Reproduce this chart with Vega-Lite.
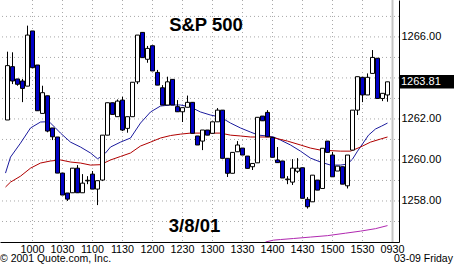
{
  "$schema": "https://vega.github.io/schema/vega-lite/v6.json",
  "width": 399,
  "height": 242,
  "autosize": {"type": "none"},
  "padding": {"left": 0, "top": 0, "right": 55, "bottom": 22},
  "background": "white",
  "config": {
    "view": {"stroke": null},
    "font": "Liberation Sans",
    "axis": {
      "grid": false,
      "domainColor": "black",
      "domainWidth": 1,
      "tickSize": 0,
      "ticks": false,
      "labelFont": "Liberation Sans",
      "labelFontSize": 11,
      "labelColor": "black",
      "labelOverlap": false,
      "labelFlush": false
    }
  },
  "datasets": {
    "candles": [
      {"t": 575, "o": 1261.95, "h": 1265.28, "l": 1261.95, "c": 1264.60},
      {"t": 580, "o": 1264.55, "h": 1265.25, "l": 1263.70, "c": 1263.85},
      {"t": 585, "o": 1263.95, "h": 1263.95, "l": 1263.62, "c": 1263.69},
      {"t": 590, "o": 1263.85, "h": 1263.95, "l": 1262.82, "c": 1263.49},
      {"t": 595, "o": 1263.60, "h": 1266.55, "l": 1263.60, "c": 1266.09},
      {"t": 600, "o": 1266.29, "h": 1266.29, "l": 1264.50, "c": 1264.50},
      {"t": 605, "o": 1264.63, "h": 1264.63, "l": 1262.40, "c": 1262.40},
      {"t": 610, "o": 1262.27, "h": 1263.62, "l": 1262.27, "c": 1263.28},
      {"t": 615, "o": 1263.13, "h": 1263.13, "l": 1261.35, "c": 1261.41},
      {"t": 620, "o": 1261.56, "h": 1261.56, "l": 1260.97, "c": 1261.13},
      {"t": 625, "o": 1261.12, "h": 1261.12, "l": 1259.36, "c": 1259.36},
      {"t": 630, "o": 1259.36, "h": 1259.36, "l": 1258.29, "c": 1258.29},
      {"t": 635, "o": 1258.39, "h": 1258.39, "l": 1258.00, "c": 1258.09},
      {"t": 640, "o": 1258.40, "h": 1259.60, "l": 1258.40, "c": 1259.60},
      {"t": 645, "o": 1259.60, "h": 1259.75, "l": 1258.40, "c": 1258.40},
      {"t": 650, "o": 1258.40, "h": 1259.31, "l": 1258.40, "c": 1258.87},
      {"t": 655, "o": 1258.98, "h": 1259.21, "l": 1258.82, "c": 1259.01},
      {"t": 660, "o": 1259.31, "h": 1259.46, "l": 1258.58, "c": 1258.58},
      {"t": 665, "o": 1258.58, "h": 1258.99, "l": 1257.80, "c": 1258.99},
      {"t": 670, "o": 1259.02, "h": 1261.21, "l": 1258.97, "c": 1261.21},
      {"t": 675, "o": 1261.21, "h": 1262.79, "l": 1261.21, "c": 1262.79},
      {"t": 680, "o": 1262.79, "h": 1262.79, "l": 1262.22, "c": 1262.22},
      {"t": 685, "o": 1262.11, "h": 1262.95, "l": 1262.11, "c": 1262.87},
      {"t": 690, "o": 1262.92, "h": 1263.08, "l": 1261.41, "c": 1261.46},
      {"t": 695, "o": 1261.54, "h": 1262.11, "l": 1261.33, "c": 1262.11},
      {"t": 700, "o": 1262.11, "h": 1263.79, "l": 1262.11, "c": 1263.79},
      {"t": 705, "o": 1263.81, "h": 1266.09, "l": 1263.70, "c": 1266.09},
      {"t": 710, "o": 1266.22, "h": 1266.22, "l": 1264.99, "c": 1264.99},
      {"t": 715, "o": 1264.91, "h": 1265.56, "l": 1264.74, "c": 1265.44},
      {"t": 720, "o": 1265.57, "h": 1265.57, "l": 1264.34, "c": 1264.34},
      {"t": 725, "o": 1264.27, "h": 1264.39, "l": 1263.65, "c": 1263.65},
      {"t": 730, "o": 1263.52, "h": 1263.65, "l": 1262.68, "c": 1262.68},
      {"t": 735, "o": 1262.68, "h": 1264.06, "l": 1262.68, "c": 1263.81},
      {"t": 740, "o": 1263.93, "h": 1263.93, "l": 1262.68, "c": 1262.68},
      {"t": 745, "o": 1262.60, "h": 1262.92, "l": 1262.35, "c": 1262.35},
      {"t": 750, "o": 1262.35, "h": 1262.55, "l": 1261.85, "c": 1262.55},
      {"t": 755, "o": 1262.57, "h": 1263.14, "l": 1262.57, "c": 1262.81},
      {"t": 760, "o": 1262.81, "h": 1262.81, "l": 1261.30, "c": 1261.30},
      {"t": 765, "o": 1261.17, "h": 1261.17, "l": 1260.73, "c": 1260.73},
      {"t": 770, "o": 1260.92, "h": 1261.46, "l": 1260.48, "c": 1261.46},
      {"t": 775, "o": 1261.46, "h": 1261.46, "l": 1261.21, "c": 1261.21},
      {"t": 780, "o": 1261.30, "h": 1261.86, "l": 1261.30, "c": 1261.86},
      {"t": 785, "o": 1261.86, "h": 1262.53, "l": 1261.86, "c": 1262.43},
      {"t": 790, "o": 1262.43, "h": 1262.43, "l": 1260.08, "c": 1260.08},
      {"t": 795, "o": 1260.08, "h": 1260.08, "l": 1259.17, "c": 1259.35},
      {"t": 800, "o": 1259.35, "h": 1260.37, "l": 1259.35, "c": 1260.37},
      {"t": 805, "o": 1260.40, "h": 1260.92, "l": 1260.40, "c": 1260.73},
      {"t": 810, "o": 1260.58, "h": 1260.58, "l": 1260.24, "c": 1260.24},
      {"t": 815, "o": 1260.19, "h": 1260.19, "l": 1259.59, "c": 1259.59},
      {"t": 820, "o": 1259.67, "h": 1259.83, "l": 1259.51, "c": 1259.83},
      {"t": 825, "o": 1259.86, "h": 1262.08, "l": 1259.86, "c": 1262.08},
      {"t": 830, "o": 1262.14, "h": 1262.14, "l": 1261.91, "c": 1261.91},
      {"t": 835, "o": 1262.32, "h": 1262.43, "l": 1261.13, "c": 1261.13},
      {"t": 840, "o": 1261.10, "h": 1261.10, "l": 1260.13, "c": 1260.13},
      {"t": 845, "o": 1260.00, "h": 1260.63, "l": 1259.87, "c": 1259.87},
      {"t": 850, "o": 1259.95, "h": 1259.95, "l": 1259.12, "c": 1259.12},
      {"t": 855, "o": 1259.04, "h": 1259.21, "l": 1258.82, "c": 1259.07},
      {"t": 860, "o": 1258.92, "h": 1260.04, "l": 1258.78, "c": 1259.60},
      {"t": 865, "o": 1259.45, "h": 1260.09, "l": 1259.36, "c": 1259.60},
      {"t": 870, "o": 1259.62, "h": 1259.62, "l": 1258.13, "c": 1258.13},
      {"t": 875, "o": 1258.08, "h": 1258.19, "l": 1257.63, "c": 1257.72},
      {"t": 880, "o": 1257.96, "h": 1259.26, "l": 1257.96, "c": 1259.26},
      {"t": 885, "o": 1259.02, "h": 1259.02, "l": 1258.53, "c": 1258.53},
      {"t": 890, "o": 1258.61, "h": 1260.57, "l": 1258.61, "c": 1260.57},
      {"t": 895, "o": 1260.92, "h": 1260.92, "l": 1260.37, "c": 1260.37},
      {"t": 900, "o": 1260.24, "h": 1260.39, "l": 1259.18, "c": 1259.18},
      {"t": 905, "o": 1259.46, "h": 1259.70, "l": 1259.46, "c": 1259.70},
      {"t": 910, "o": 1259.67, "h": 1259.67, "l": 1258.82, "c": 1258.82},
      {"t": 915, "o": 1258.74, "h": 1260.24, "l": 1258.61, "c": 1260.24},
      {"t": 920, "o": 1260.48, "h": 1262.43, "l": 1260.48, "c": 1262.43},
      {"t": 925, "o": 1262.43, "h": 1264.06, "l": 1262.19, "c": 1264.06},
      {"t": 930, "o": 1264.03, "h": 1264.03, "l": 1262.82, "c": 1263.17},
      {"t": 935, "o": 1263.17, "h": 1264.22, "l": 1263.17, "c": 1264.03},
      {"t": 940, "o": 1264.22, "h": 1265.36, "l": 1264.22, "c": 1265.00},
      {"t": 945, "o": 1264.96, "h": 1264.96, "l": 1263.00, "c": 1263.00},
      {"t": 950, "o": 1263.00, "h": 1263.25, "l": 1262.87, "c": 1263.25},
      {"t": 955, "o": 1263.17, "h": 1263.81, "l": 1262.84, "c": 1263.81}
    ],
    "ma": [
      {"s": "b", "t": 573, "v": 1259.36}, {"s": "b", "t": 578, "v": 1260.14}, {"s": "b", "t": 588, "v": 1260.82},
      {"s": "b", "t": 598, "v": 1261.56}, {"s": "b", "t": 608, "v": 1261.85}, {"s": "b", "t": 613, "v": 1261.86},
      {"s": "b", "t": 618, "v": 1261.80}, {"s": "b", "t": 623, "v": 1261.56}, {"s": "b", "t": 628, "v": 1261.31},
      {"s": "b", "t": 638, "v": 1260.87}, {"s": "b", "t": 648, "v": 1260.63}, {"s": "b", "t": 658, "v": 1260.34},
      {"s": "b", "t": 665, "v": 1260.06}, {"s": "b", "t": 668, "v": 1260.14}, {"s": "b", "t": 673, "v": 1260.34},
      {"s": "b", "t": 678, "v": 1260.63}, {"s": "b", "t": 688, "v": 1260.87}, {"s": "b", "t": 698, "v": 1261.07},
      {"s": "b", "t": 708, "v": 1261.80}, {"s": "b", "t": 718, "v": 1262.34}, {"s": "b", "t": 728, "v": 1262.63},
      {"s": "b", "t": 738, "v": 1262.68}, {"s": "b", "t": 748, "v": 1262.68}, {"s": "b", "t": 758, "v": 1262.58},
      {"s": "b", "t": 768, "v": 1262.34}, {"s": "b", "t": 778, "v": 1262.19}, {"s": "b", "t": 788, "v": 1262.09},
      {"s": "b", "t": 798, "v": 1261.80}, {"s": "b", "t": 808, "v": 1261.56}, {"s": "b", "t": 818, "v": 1261.36},
      {"s": "b", "t": 826, "v": 1261.21}, {"s": "b", "t": 835, "v": 1261.17}, {"s": "b", "t": 841, "v": 1261.12},
      {"s": "b", "t": 848, "v": 1260.97}, {"s": "b", "t": 858, "v": 1260.73}, {"s": "b", "t": 868, "v": 1260.43},
      {"s": "b", "t": 878, "v": 1260.09}, {"s": "b", "t": 888, "v": 1259.90}, {"s": "b", "t": 898, "v": 1259.75},
      {"s": "b", "t": 908, "v": 1259.75}, {"s": "b", "t": 915, "v": 1259.80}, {"s": "b", "t": 920, "v": 1260.04},
      {"s": "b", "t": 925, "v": 1260.43}, {"s": "b", "t": 930, "v": 1260.78}, {"s": "b", "t": 936, "v": 1261.21},
      {"s": "b", "t": 943, "v": 1261.51}, {"s": "b", "t": 949, "v": 1261.65}, {"s": "b", "t": 955, "v": 1261.80},
      {"s": "r", "t": 573, "v": 1258.68}, {"s": "r", "t": 578, "v": 1258.92}, {"s": "r", "t": 588, "v": 1259.21},
      {"s": "r", "t": 598, "v": 1259.60}, {"s": "r", "t": 608, "v": 1259.85}, {"s": "r", "t": 618, "v": 1259.95},
      {"s": "r", "t": 628, "v": 1260.00}, {"s": "r", "t": 638, "v": 1259.90}, {"s": "r", "t": 648, "v": 1259.85},
      {"s": "r", "t": 658, "v": 1259.75}, {"s": "r", "t": 668, "v": 1259.77}, {"s": "r", "t": 678, "v": 1260.00},
      {"s": "r", "t": 688, "v": 1260.17}, {"s": "r", "t": 698, "v": 1260.34}, {"s": "r", "t": 708, "v": 1260.68},
      {"s": "r", "t": 718, "v": 1260.87}, {"s": "r", "t": 728, "v": 1261.07}, {"s": "r", "t": 738, "v": 1261.19},
      {"s": "r", "t": 748, "v": 1261.26}, {"s": "r", "t": 758, "v": 1261.31}, {"s": "r", "t": 788, "v": 1261.31},
      {"s": "r", "t": 798, "v": 1261.21}, {"s": "r", "t": 808, "v": 1261.17}, {"s": "r", "t": 818, "v": 1261.12},
      {"s": "r", "t": 838, "v": 1261.12}, {"s": "r", "t": 855, "v": 1260.92}, {"s": "r", "t": 868, "v": 1260.73},
      {"s": "r", "t": 878, "v": 1260.58}, {"s": "r", "t": 888, "v": 1260.48}, {"s": "r", "t": 908, "v": 1260.43},
      {"s": "r", "t": 918, "v": 1260.43}, {"s": "r", "t": 928, "v": 1260.63}, {"s": "r", "t": 938, "v": 1260.87},
      {"s": "r", "t": 948, "v": 1261.02}, {"s": "r", "t": 955, "v": 1261.12},
      {"s": "m", "t": 833, "v": 1256.0}, {"s": "m", "t": 841, "v": 1256.09}, {"s": "m", "t": 848, "v": 1256.12},
      {"s": "m", "t": 861, "v": 1256.17}, {"s": "m", "t": 878, "v": 1256.24}, {"s": "m", "t": 895, "v": 1256.31},
      {"s": "m", "t": 913, "v": 1256.43}, {"s": "m", "t": 928, "v": 1256.53}, {"s": "m", "t": 943, "v": 1256.65},
      {"s": "m", "t": 955, "v": 1256.80}
    ],
    "hgrid": [
      {"p": 1257}, {"p": 1258}, {"p": 1259}, {"p": 1260}, {"p": 1261}, {"p": 1262},
      {"p": 1263}, {"p": 1264}, {"p": 1265}, {"p": 1266}, {"p": 1267}
    ],
    "vgrid": [
      {"t": 600}, {"t": 630}, {"t": 660}, {"t": 690}, {"t": 720}, {"t": 750}, {"t": 780},
      {"t": 810}, {"t": 840}, {"t": 870}, {"t": 900}, {"t": 930}
    ],
    "xlabels": [
      {"t": 600, "lab": "1000", "p": 1255.46}, {"t": 630, "lab": "1030", "p": 1255.46},
      {"t": 660, "lab": "1100", "p": 1255.46}, {"t": 690, "lab": "1130", "p": 1255.46},
      {"t": 720, "lab": "1200", "p": 1255.46}, {"t": 750, "lab": "1230", "p": 1255.46},
      {"t": 780, "lab": "1300", "p": 1255.46}, {"t": 810, "lab": "1330", "p": 1255.46},
      {"t": 840, "lab": "1400", "p": 1255.46}, {"t": 870, "lab": "1430", "p": 1255.46},
      {"t": 900, "lab": "1500", "p": 1255.46}, {"t": 930, "lab": "1530", "p": 1255.46},
      {"t": 960, "lab": "0930", "p": 1255.46}
    ],
    "labels": [
      {"text": "S&P 500", "t": 773.5, "p": 1266.3},
      {"text": "3/8/01", "t": 762, "p": 1256.47}
    ],
    "footer": [
      {"text": "© 2001 Quote.com, Inc.", "t": 567.5, "p": 1255.02},
      {"text": "03-09 Friday", "t": 961.5, "p": 1255.02}
    ],
    "last": [
      {"price": 1263.81, "t0": 966.5, "t1": 1021.5, "top": 1264.14, "bottom": 1263.49, "tl": 968.5, "sep": 960}
    ]
  },
  "layer": [
    {
      "data": {"name": "hgrid"},
      "mark": {"type": "rule", "color": "#a8a8a8", "strokeWidth": 1, "strokeDash": [1, 3]},
      "encoding": {
        "y": {
          "field": "p", "type": "quantitative", "title": null,
          "scale": {"domain": [1256, 1267.8], "nice": false, "zero": false, "padding": 0},
          "axis": {
            "orient": "right",
            "values": [1258, 1260, 1262, 1266],
            "format": ".2f",
            "labelPadding": 2,
            "labelOverlap": false,
            "labelFlush": false,
            "grid": false
          }
        }
      }
    },
    {
      "data": {"name": "vgrid"},
      "mark": {"type": "rule", "color": "#a8a8a8", "strokeWidth": 1, "strokeDash": [1, 3]},
      "encoding": {
        "x": {
          "field": "t", "type": "quantitative", "title": null,
          "scale": {"domain": [567.5, 966.5], "nice": false, "zero": false, "padding": 0},
          "axis": {
            "values": [600, 960],
            "labels": false,
            "grid": false
          }
        }
      }
    },
    {
      "data": {"name": "last"},
      "mark": {"type": "rule", "color": "#c4c4c4", "strokeWidth": 2},
      "encoding": {"x": {"field": "sep", "type": "quantitative", "title": null}}
    },
    {
      "data": {"name": "ma"},
      "mark": {"type": "line", "strokeWidth": 1, "clip": true},
      "encoding": {
        "x": {"field": "t", "type": "quantitative", "title": null},
        "y": {"field": "v", "type": "quantitative", "title": null},
        "color": {
          "field": "s", "type": "nominal", "legend": null,
          "scale": {"domain": ["b", "r", "m"], "range": ["#1c1c9e", "#b00000", "#b028b0"]}
        }
      }
    },
    {
      "data": {"name": "candles"},
      "mark": {"type": "rule", "color": "black", "strokeWidth": 1},
      "encoding": {
        "x": {"field": "t", "type": "quantitative", "title": null},
        "y": {"field": "l", "type": "quantitative", "title": null},
        "y2": {"field": "h"}
      }
    },
    {
      "data": {"name": "candles"},
      "mark": {"type": "bar", "width": 4, "stroke": "black", "strokeWidth": 1},
      "encoding": {
        "x": {"field": "t", "type": "quantitative", "title": null},
        "y": {"field": "o", "type": "quantitative", "title": null},
        "y2": {"field": "c"},
        "fill": {"condition": {"test": "datum.c < datum.o", "value": "#0000c8"}, "value": "white"}
      }
    },
    {
      "data": {"name": "labels"},
      "mark": {"type": "text", "font": "Liberation Sans", "fontWeight": "bold", "fontSize": 18.5, "align": "center", "baseline": "alphabetic", "color": "black"},
      "encoding": {
        "x": {"field": "t", "type": "quantitative", "title": null},
        "y": {"field": "p", "type": "quantitative", "title": null},
        "text": {"field": "text"}
      }
    },
    {
      "data": {"name": "xlabels"},
      "mark": {"type": "text", "font": "Liberation Sans", "fontSize": 10.8, "align": "center", "baseline": "alphabetic", "color": "black"},
      "encoding": {
        "x": {"field": "t", "type": "quantitative", "title": null},
        "y": {"field": "p", "type": "quantitative", "title": null},
        "text": {"field": "lab"}
      }
    },
    {
      "data": {"name": "footer"},
      "mark": {"type": "text", "font": "Liberation Sans", "fontSize": 10.5, "align": "left", "baseline": "alphabetic", "color": "black"},
      "encoding": {
        "x": {"field": "t", "type": "quantitative", "title": null},
        "y": {"field": "p", "type": "quantitative", "title": null},
        "text": {"field": "text"}
      }
    },
    {
      "data": {"name": "last"},
      "mark": {"type": "rect", "color": "black"},
      "encoding": {
        "x": {"field": "t0", "type": "quantitative", "title": null},
        "x2": {"field": "t1"},
        "y": {"field": "top", "type": "quantitative", "title": null},
        "y2": {"field": "bottom"}
      }
    },
    {
      "data": {"name": "last"},
      "mark": {"type": "text", "font": "Liberation Sans", "fontSize": 11, "align": "left", "baseline": "middle", "color": "white"},
      "encoding": {
        "x": {"field": "tl", "type": "quantitative", "title": null},
        "y": {"field": "price", "type": "quantitative", "title": null},
        "text": {"field": "price", "type": "quantitative", "format": ".2f"}
      }
    }
  ]
}
